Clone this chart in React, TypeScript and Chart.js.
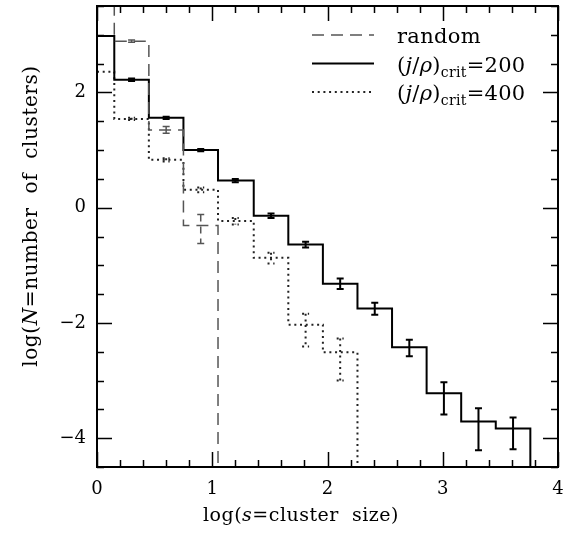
import React, { useEffect, useRef } from 'react';
import { Chart, registerables } from 'chart.js';

Chart.register(...registerables);

// bin edges in log(s) (factor-2 bins) and bin centres where error bars sit
const binEdges = [0, 0.15, 0.45, 0.75, 1.05, 1.36, 1.66, 1.96, 2.26, 2.56, 2.86, 3.16, 3.46, 3.76];
const binCenters = [0.075, 0.3, 0.6, 0.9, 1.2, 1.51, 1.81, 2.11, 2.41, 2.71, 3.01, 3.31, 3.61];

// (j/rho)_crit = 200  (solid)
const crit200 = [2.98, 2.22, 1.56, 1.0, 0.47, -0.14, -0.64, -1.32, -1.75, -2.42, -3.22, -3.71, -3.83];
const crit200ErrUp = [null, 0.02, 0.02, 0.02, 0.03, 0.04, 0.05, 0.09, 0.1, 0.13, 0.19, 0.23, 0.19];
const crit200ErrDown = [null, 0.02, 0.02, 0.02, 0.03, 0.04, 0.05, 0.09, 0.11, 0.16, 0.37, 0.5, 0.36];

// (j/rho)_crit = 400  (dotted)
const crit400 = [2.36, 1.54, 0.83, 0.31, -0.23, -0.87, -2.03, -2.51];
const crit400ErrUp = [null, 0.02, 0.03, 0.04, 0.05, 0.09, 0.19, 0.24];
const crit400ErrDown = [null, 0.02, 0.03, 0.04, 0.06, 0.1, 0.38, 0.49];

// random (dashed)
const randomVals = [3.9, 2.89, 1.35, -0.31];
const randomErrUp = [null, 0.02, 0.06, 0.19];
const randomErrDown = [null, 0.02, 0.06, 0.31];

const xTickValues = [0, 1, 2, 3, 4];
const yTickValues = [-4, -2, 0, 2];
const X_MIN = 0, X_MAX = 4, Y_MIN = -4.5, Y_MAX = 3.5;

const FONT = '"DejaVu Serif", "Liberation Serif", serif';

type Part = { t: string; it?: boolean; sub?: boolean };
const xTitle: Part[] = [{ t: 'log(' }, { t: 's', it: true }, { t: '=cluster  size)' }];
const yTitle: Part[] = [{ t: 'log(' }, { t: 'N', it: true }, { t: '=number  of  clusters)' }];

const legendItems: { parts: Part[]; dash: number[]; width: number; color: string }[] = [
  { parts: [{ t: 'random' }], dash: [12, 7], width: 1.5, color: '#555' },
  { parts: [{ t: '(' }, { t: 'j', it: true }, { t: '/' }, { t: 'ρ', it: true }, { t: ')' }, { t: 'crit', sub: true }, { t: '=200' }], dash: [], width: 2, color: '#000' },
  { parts: [{ t: '(' }, { t: 'j', it: true }, { t: '/' }, { t: 'ρ', it: true }, { t: ')' }, { t: 'crit', sub: true }, { t: '=400' }], dash: [2, 3.7], width: 2, color: '#222' },
];

function stepPoints(vals: number[]) {
  const pts = vals.map((v, i) => ({ x: binEdges[i], y: v }));
  pts.push({ x: binEdges[vals.length], y: Y_MIN - 2 });
  return pts;
}

function drawRich(ctx: any, parts: Part[], x: number, y: number, size: number, align: 'left' | 'center', spacing = 0) {
  const fontFor = (p: Part) => `${p.it ? 'italic ' : ''}${p.sub ? Math.round(size * 0.66) : size}px ${FONT}`;
  ctx.letterSpacing = spacing + 'px';
  let total = 0;
  const widths = parts.map((p) => {
    ctx.font = fontFor(p);
    const w = ctx.measureText(p.t).width;
    total += w;
    return w;
  });
  let cx = align === 'center' ? x - total / 2 : x;
  ctx.textAlign = 'left';
  ctx.textBaseline = 'alphabetic';
  parts.forEach((p, i) => {
    ctx.font = fontFor(p);
    ctx.fillText(p.t, cx, p.sub ? y + size * 0.25 : y);
    cx += widths[i];
  });
  ctx.letterSpacing = '0px';
}

const seriesErr = [
  { vals: crit200, up: crit200ErrUp, down: crit200ErrDown, dash: [] as number[], width: 2, color: '#000' },
  { vals: crit400, up: crit400ErrUp, down: crit400ErrDown, dash: [2, 3.7], width: 2, color: '#222' },
  { vals: randomVals, up: randomErrUp, down: randomErrDown, dash: [7, 5], width: 1.5, color: '#555' },
];

const decorPlugin = {
  id: 'decor',
  afterDatasetsDraw(chart: any) {
    const { ctx, scales, chartArea } = chart;
    const xs = scales.x, ys = scales.y;
    ctx.save();
    ctx.beginPath();
    ctx.rect(chartArea.left, chartArea.top, chartArea.right - chartArea.left, chartArea.bottom - chartArea.top);
    ctx.clip();
    seriesErr.forEach((s) => {
      ctx.strokeStyle = s.color;
      ctx.lineWidth = s.width;
      ctx.setLineDash(s.dash);
      s.vals.forEach((v, i) => {
        const up = s.up[i], dn = s.down[i];
        if (up == null || dn == null) return;
        const px = xs.getPixelForValue(binCenters[i]);
        const yt = ys.getPixelForValue(v + up);
        const yb = ys.getPixelForValue(v - dn);
        ctx.beginPath();
        ctx.moveTo(px, yt);
        ctx.lineTo(px, yb);
        ctx.moveTo(px - 3.5, yt);
        ctx.lineTo(px + 3.5, yt);
        ctx.moveTo(px - 3.5, yb);
        ctx.lineTo(px + 3.5, yb);
        ctx.stroke();
      });
    });
    ctx.restore();
  },
  afterDraw(chart: any) {
    const { ctx, scales, chartArea } = chart;
    const xs = scales.x, ys = scales.y;
    const { left, right, top, bottom } = chartArea;
    ctx.save();
    ctx.setLineDash([]);
    ctx.strokeStyle = '#000';
    ctx.lineWidth = 2;
    ctx.strokeRect(left, top, right - left, bottom - top);
    ctx.lineWidth = 1.5;
    ctx.beginPath();
    // x ticks (minor every 0.2, major at labelled values)
    for (let k = 0; k <= 20; k++) {
      const v = X_MIN + k * 0.2;
      const major = xTickValues.some((t) => Math.abs(t - v) < 1e-6);
      const len = major ? 15 : 7;
      const px = Math.round(xs.getPixelForValue(v)) + 0.5;
      ctx.moveTo(px, bottom);
      ctx.lineTo(px, bottom - len);
      ctx.moveTo(px, top);
      ctx.lineTo(px, top + len);
    }
    // y ticks (minor every 0.5, major at labelled values)
    for (let k = 0; k <= 16; k++) {
      const v = Y_MIN + k * 0.5;
      const major = yTickValues.some((t) => Math.abs(t - v) < 1e-6);
      const len = major ? 15 : 7;
      const py = Math.round(ys.getPixelForValue(v)) + 0.5;
      ctx.moveTo(left, py);
      ctx.lineTo(left + len, py);
      ctx.moveTo(right, py);
      ctx.lineTo(right - len, py);
    }
    ctx.stroke();

    // axis titles
    ctx.fillStyle = '#000';
    drawRich(ctx, xTitle, 301, 521, 19, 'center', 0.5);
    ctx.save();
    ctx.translate(37, 216);
    ctx.rotate(-Math.PI / 2);
    drawRich(ctx, yTitle, 0, 0, 20, 'center', 0.6);
    ctx.restore();

    // legend
    legendItems.forEach((item, i) => {
      const ly = 35 + i * 28.5;
      ctx.strokeStyle = item.color;
      ctx.lineWidth = item.width;
      ctx.setLineDash(item.dash);
      ctx.beginPath();
      ctx.moveTo(312, ly);
      ctx.lineTo(374, ly);
      ctx.stroke();
      ctx.setLineDash([]);
      ctx.fillStyle = '#000';
      drawRich(ctx, item.parts, 397, ly + 8, 21, 'left', 0.3);
    });
    ctx.restore();
  },
};

export default function App() {
  const ref = useRef<HTMLCanvasElement>(null);
  useEffect(() => {
    if (!ref.current) return;
    const common = { pointRadius: 0, fill: false, stepped: 'before' as const, tension: 0 };
    const chart = new Chart(ref.current, {
      type: 'line',
      data: {
        datasets: [
          { ...common, label: 'random', data: stepPoints(randomVals), borderColor: '#555', borderWidth: 1.5, borderDash: [12, 7] },
          { ...common, label: '(j/ρ)crit=200', data: stepPoints(crit200), borderColor: '#000', borderWidth: 2 },
          { ...common, label: '(j/ρ)crit=400', data: stepPoints(crit400), borderColor: '#222', borderWidth: 2, borderDash: [2, 3.7] },
        ],
      },
      options: {
        animation: false,
        responsive: true,
        maintainAspectRatio: false,
        layout: { padding: { top: 6, right: 6, left: 0, bottom: 0 } },
        plugins: { legend: { display: false }, tooltip: { enabled: false } },
        scales: {
          x: {
            type: 'linear',
            min: X_MIN,
            max: X_MAX,
            afterBuildTicks: (s: any) => { s.ticks = xTickValues.map((value) => ({ value })); },
            afterFit: (s: any) => { s.height = 71; s.paddingLeft = 0; s.paddingRight = 0; },
            grid: { display: false, drawTicks: false },
            border: { display: false },
            ticks: { color: '#000', font: { family: FONT, size: 18 }, padding: 12, maxRotation: 0, autoSkip: false },
          },
          y: {
            type: 'linear',
            min: Y_MIN,
            max: Y_MAX,
            afterBuildTicks: (s: any) => { s.ticks = yTickValues.map((value) => ({ value })); },
            afterFit: (s: any) => { s.width = 97; s.paddingTop = 0; s.paddingBottom = 0; },
            grid: { display: false, drawTicks: false },
            border: { display: false },
            ticks: {
              color: '#000',
              font: { family: FONT, size: 18 },
              padding: 11,
              autoSkip: false,
              callback: (v: any) => (Number(v) < 0 ? '\u2212' + Math.abs(Number(v)) : String(v)),
            },
          },
        },
      },
      plugins: [decorPlugin],
    });
    return () => chart.destroy();
  }, []);
  return (
    <div style={{ position: 'absolute', left: 0, top: 0, width: 564, height: 538 }}>
      <canvas ref={ref} />
    </div>
  );
}
